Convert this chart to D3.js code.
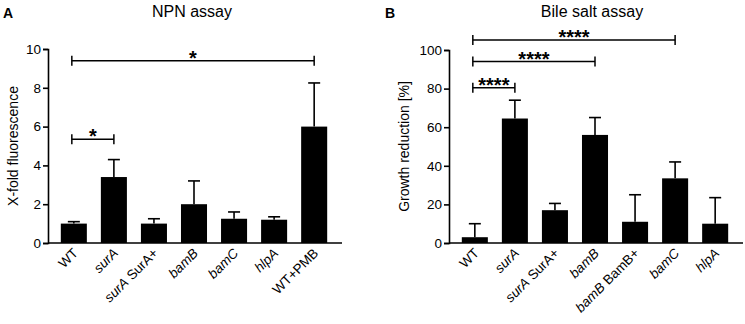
<!DOCTYPE html>
<html>
<head>
<meta charset="utf-8">
<script src="https://cdn.jsdelivr.net/npm/d3@7"></script>
<style>
  body { margin: 0; background: #fff; }
  text { font-family: "Liberation Sans", Arial, sans-serif; }
</style>
</head>
<body>
<svg id="fig" width="745" height="324"></svg>
<script>
// panel A: NPN assay
var npnCats = ['WT', 'surA', 'surA SurA+', 'bamB', 'bamC', 'hlpA', 'WT+PMB'];
var npnMean = [1.0, 3.4, 1.0, 2.0, 1.25, 1.2, 6.0];
var npnSd   = [0.1, 0.9, 0.25, 1.2, 0.35, 0.15, 2.25];
var npnTicks = [0, 2, 4, 6, 8, 10];
var npnSig = [[0, 1, 5.35, '*'], [0, 6, 9.4, '*']]; // from, to, y, label

// panel B: bile salt assay
var bileCats = ['WT', 'surA', 'surA SurA+', 'bamB', 'bamB BamB+', 'bamC', 'hlpA'];
var bileMean = [3, 64.5, 17, 56, 11, 33.5, 10];
var bileSd   = [7, 9.5, 3.5, 9, 14, 8.5, 13.5];
var bileTicks = [0, 20, 40, 60, 80, 100];
var bileSig = [[0, 1, 80.5, '****'], [0, 3, 94, '****'], [0, 5, 105.2, '****']];

// gene names are italic, the rest upright
var italicWords = ['surA', 'bamB', 'bamC', 'hlpA'];

var svg = d3.select('#fig');

function panel(cfg) {
  var g = svg.append('g');

  var y = d3.scaleLinear().domain([0, cfg.max]).range([243, cfg.top]);
  var x = d3.scaleBand().domain(cfg.cats)
      .range([cfg.axisX + 6, cfg.axisX + 286])
      .paddingInner(0.35).paddingOuter(0.17);

  // letter + title
  g.append('text').attr('x', cfg.letterX).attr('y', 18)
    .attr('font-size', 14).attr('font-weight', 'bold').text(cfg.letter);
  g.append('text').attr('x', cfg.titleX).attr('y', 17)
    .attr('text-anchor', 'middle').attr('font-size', 16).text(cfg.title);

  // y axis
  var yaxis = d3.axisLeft(y).tickValues(cfg.ticks).tickSizeOuter(0).tickSize(5).tickPadding(2);
  var ya = g.append('g').attr('transform', `translate(${cfg.axisX},0)`).call(yaxis);
  ya.select('.domain').attr('stroke-width', 1.6);
  ya.selectAll('.tick line').attr('stroke-width', 1.6);
  ya.selectAll('.tick text').attr('font-size', 13.5).attr('font-family', '"Liberation Sans", Arial, sans-serif');

  g.append('text')
    .attr('transform', `translate(${cfg.labelX},${(243 + cfg.top) / 2}) rotate(-90)`)
    .attr('text-anchor', 'middle').attr('font-size', 14).text(cfg.ylabel);

  // bars
  g.selectAll('rect.bar').data(cfg.cats).enter().append('rect')
    .attr('x', d => x(d))
    .attr('y', (d, i) => y(cfg.mean[i]))
    .attr('width', x.bandwidth())
    .attr('height', (d, i) => 243 - y(cfg.mean[i]))
    .attr('fill', '#000');

  // error bars (upper only)
  cfg.cats.forEach(function (c, i) {
    var cx = x(c) + x.bandwidth() / 2;
    var top = y(cfg.mean[i] + cfg.sd[i]);
    g.append('line').attr('x1', cx).attr('x2', cx)
      .attr('y1', y(cfg.mean[i])).attr('y2', top)
      .attr('stroke', '#000').attr('stroke-width', 1.6);
    g.append('line').attr('x1', cx - 6).attr('x2', cx + 6)
      .attr('y1', top).attr('y2', top)
      .attr('stroke', '#000').attr('stroke-width', 1.6);
  });

  // x axis line
  g.append('line').attr('x1', cfg.axisX).attr('x2', cfg.axisX + 294)
    .attr('y1', 243).attr('y2', 243).attr('stroke', '#000').attr('stroke-width', 1.6);

  // rotated category labels
  cfg.cats.forEach(function (c) {
    var cx = x(c) + x.bandwidth() / 2;
    var t = g.append('text')
      .attr('transform', `translate(${cx + 5},${254}) rotate(-45)`)
      .attr('text-anchor', 'end').attr('font-size', 13.5);
    c.split(' ').forEach(function (w, k) {
      t.append('tspan').text((k > 0 ? ' ' : '') + w)
        .attr('font-style', italicWords.indexOf(w) >= 0 ? 'italic' : 'normal');
    });
  });

  // significance brackets
  cfg.sig.forEach(function (s) {
    var x1 = x(cfg.cats[s[0]]) + x.bandwidth() / 2 - 2;
    var x2 = x(cfg.cats[s[1]]) + x.bandwidth() / 2;
    var yy = y(s[2]);
    g.append('line').attr('x1', x1).attr('x2', x2).attr('y1', yy).attr('y2', yy)
      .attr('stroke', '#000').attr('stroke-width', 1.5);
    [x1, x2].forEach(function (xx) {
      g.append('line').attr('x1', xx).attr('x2', xx).attr('y1', yy - 5).attr('y2', yy + 5)
        .attr('stroke', '#000').attr('stroke-width', 1.5);
    });
    g.append('text').attr('x', (x1 + x2) / 2).attr('y', yy + 4)
      .attr('text-anchor', 'middle').attr('font-size', 20).attr('font-weight', 'bold')
      .text(s[3]);
  });
}

panel({letter: 'A', letterX: 3, title: 'NPN assay', titleX: 192,
  cats: npnCats, mean: npnMean, sd: npnSd, ticks: npnTicks, max: 10, top: 49,
  sig: npnSig, axisX: 48, labelX: 18, ylabel: 'X-fold fluorescence'});

panel({letter: 'B', letterX: 385, title: 'Bile salt assay', titleX: 592,
  cats: bileCats, mean: bileMean, sd: bileSd, ticks: bileTicks, max: 100, top: 50,
  sig: bileSig, axisX: 449, labelX: 409, ylabel: 'Growth reduction [%]'});
</script>
</body>
</html>
